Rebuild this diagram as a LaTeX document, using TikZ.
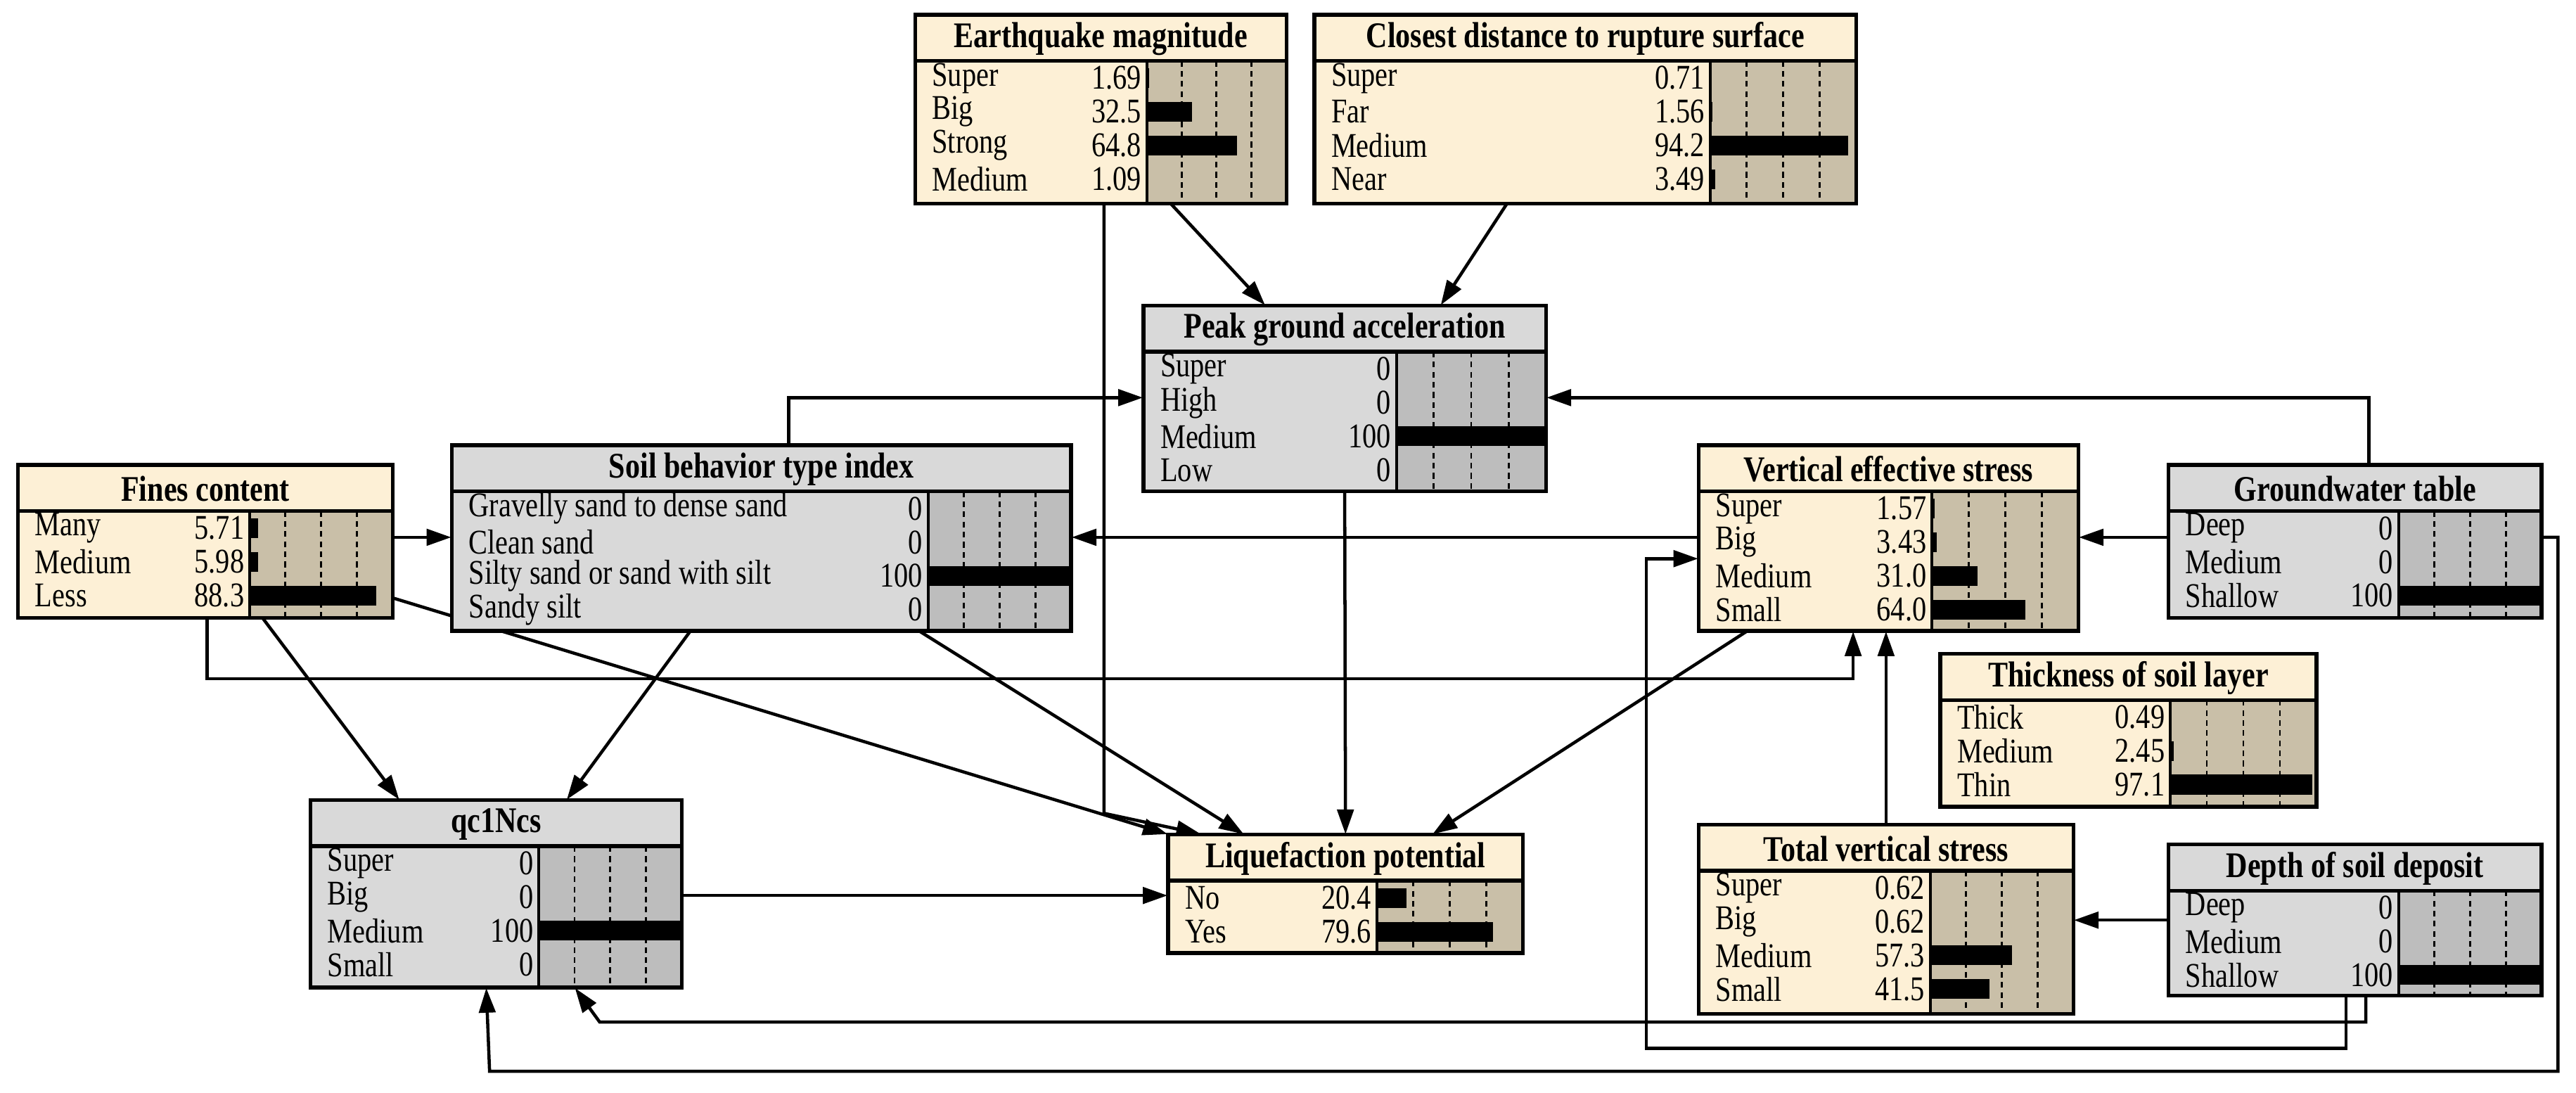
\documentclass[tikz,border=0pt]{standalone}
\usepackage{fontspec}
\setmainfont{Liberation Serif}[FakeStretch=0.82]
\usetikzlibrary{arrows.meta}
\definecolor{cf}{HTML}{FDF0D6}
\definecolor{cb}{HTML}{C9BFA8}
\definecolor{gf}{HTML}{D9D9D9}
\definecolor{gb}{HTML}{BDBDBD}
\tikzset{
  edge/.style={line width=1.1pt,-{Triangle[length=0.3cm,width=0.2cm]}},
  lbl/.style={inner sep=0,font=\fontsize{12}{12}\selectfont},
  ttl/.style={inner sep=0,font=\fontsize{12.5}{12}\selectfont\bfseries},
}
% #1 name #2 x1 #3 y1 #4 x2 #5 y2 #6 barx #7 title #8 colour prefix (c/g) #9 rows
\newcommand\bnbox[9]{%
  \fill[#8f] (#2,#3) rectangle (#4,#5);
  \fill[#8b] (#6,#3+28) rectangle (#4,#5);
  \foreach \k in {1,2,3}{\draw[dash pattern=on 2pt off 1.5pt,line width=0.7pt] ({#6+\k*(#4-#6)/4},#3+28) -- ({#6+\k*(#4-#6)/4},#5);}
  \foreach \l/\v/\p [count=\i] in {#9}{%
    \pgfmathsetmacro\yy{#3+38.5+(\i-1)*20.5}
    \node[lbl,anchor=west] at (#2+10,\yy) {\l};
    \node[lbl,anchor=east] at (#6-3,\yy) {\v};
    \pgfmathsetmacro\ww{#6+\p*(#4-#6)/100}
    \fill (#6,\yy-6) rectangle (\ww,\yy+6);
  }
  \node[ttl] at ({(#2+#4)/2},#3+14.5) {#7};
  \draw[line width=1.3pt] (#2,#3) rectangle (#4,#5);
  \draw[line width=1.3pt] (#2,#3+28) -- (#4,#3+28);
  \draw[line width=1pt] (#6,#3+28) -- (#6,#5);
  \node[inner sep=0,minimum width={(#4-#2)*0.02cm},minimum height={(#5-#3)*0.02cm}] (#1) at ({(#2+#4)/2},{(#3+#5)/2}) {};
}
\begin{document}
\begin{tikzpicture}[x=0.02cm,y=-0.02cm]
\useasboundingbox (0,0) rectangle (1568,665);
% nodes first (invisible anchors created), edges drawn on background via layering order trick:
\begin{scope}[opacity=0]
\node[inner sep=0,minimum width=4.52cm,minimum height=2.3cm] (eq) at (670,66.5) {};
\end{scope}
% ---- node geometry placeholders for edges
\path (557,9) coordinate (eqnw) (783,124) coordinate (eqse);
\node[inner sep=0,minimum width={226*0.02cm},minimum height={115*0.02cm}] (eq) at (670,66.5) {};
\node[inner sep=0,minimum width={330*0.02cm},minimum height={115*0.02cm}] (cd) at (965,66.5) {};
\node[inner sep=0,minimum width={245*0.02cm},minimum height={113*0.02cm}] (pga) at (818.5,242.5) {};
\node[inner sep=0,minimum width={228*0.02cm},minimum height={93*0.02cm}] (fc) at (125,329.5) {};
\node[inner sep=0,minimum width={377*0.02cm},minimum height={113*0.02cm}] (sb) at (463.5,327.5) {};
\node[inner sep=0,minimum width={231*0.02cm},minimum height={113*0.02cm}] (ves) at (1149.5,327.5) {};
\node[inner sep=0,minimum width={227*0.02cm},minimum height={93*0.02cm}] (gw) at (1433.5,329.5) {};
\node[inner sep=0,minimum width={226*0.02cm},minimum height={114*0.02cm}] (qc) at (302,544) {};
\node[inner sep=0,minimum width={216*0.02cm},minimum height={72*0.02cm}] (lp) at (819,544) {};
\node[inner sep=0,minimum width={228*0.02cm},minimum height={115*0.02cm}] (tvs) at (1148,559.5) {};
\node[inner sep=0,minimum width={227*0.02cm},minimum height={92*0.02cm}] (ds) at (1433.5,560) {};
% ---- edges
\draw[edge] (713,0 |- eq.south) -- (770,0 |- pga.north);
\draw[edge] (917,0 |- cd.south) -- (877,0 |- pga.north);
\draw[edge] (672,0 |- eq.south) -- (672,495) -- (731,0 |- lp.north);
\draw[edge] (pga.south) -- (lp.north);
\draw[edge] (480,0 |- sb.north) -- (480,242) -- (pga.west |- 0,242);
\draw[edge] (1442,0 |- gw.north) -- (1442,242) -- (pga.east |- 0,242);
\draw[edge] (fc.east |- 0,327) -- (sb.west |- 0,327);
\draw[edge] (ves.west |- 0,327) -- (sb.east |- 0,327);
\draw[edge] (gw.west |- 0,327) -- (ves.east |- 0,327);
\draw[edge] (126,0 |- fc.south) -- (126,413) -- (1128,413) -- (1128,0 |- ves.south);
\draw[edge] (160,0 |- fc.south) -- (243,0 |- qc.north);
\draw[edge] (fc.east |- 0,364) -- (lp.north west);
\draw[edge] (420,0 |- sb.south) -- (345,0 |- qc.north);
\draw[edge] (560,0 |- sb.south) -- (757,0 |- lp.north);
\draw[edge] (1063,0 |- ves.south) -- (872,0 |- lp.north);
\draw[edge] (1148,0 |- tvs.north) -- (1148,0 |- ves.south);
\draw[edge] (ds.west |- 0,560) -- (tvs.east |- 0,560);
\draw[edge] (1440,0 |- ds.south) -- (1440,622) -- (365,622) -- (350,0 |- qc.south);
\draw[edge] (1428,0 |- ds.south) -- (1428,638) -- (1002,638) -- (1002,340) -- (ves.west |- 0,340);
\draw[edge] (gw.east |- 0,327) -- (1557,327) -- (1557,652) -- (298,652) -- (296,0 |- qc.south);
\draw[edge] (qc.east |- 0,545) -- (lp.west |- 0,545);
% ---- nodes drawn
\bnbox{eq}{557}{9}{783}{124}{698}{Earthquake magnitude}{c}{Super/1.69/1.69,Big/32.5/32.5,Strong/64.8/64.8,Medium/1.09/1.09}
\bnbox{cd}{800}{9}{1130}{124}{1041}{Closest distance to rupture surface}{c}{Super/0.71/0.71,Far/1.56/1.56,Medium/94.2/94.2,Near/3.49/3.49}
\bnbox{pga}{696}{186}{941}{299}{850}{Peak ground acceleration}{g}{Super/0/0,High/0/0,Medium/100/100,Low/0/0}
\bnbox{fc}{11}{283}{239}{376}{152}{Fines content}{c}{Many/5.71/5.71,Medium/5.98/5.98,Less/88.3/88.3}
\bnbox{sb}{275}{271}{652}{384}{565}{Soil behavior type index}{g}{Gravelly sand to dense sand/0/0,Clean sand/0/0,Silty sand or sand with silt/100/100,Sandy silt/0/0}
\bnbox{ves}{1034}{271}{1265}{384}{1176}{Vertical effective stress}{c}{Super/1.57/1.57,Big/3.43/3.43,Medium/31.0/31.0,Small/64.0/64.0}
\bnbox{gw}{1320}{283}{1547}{376}{1460}{Groundwater table}{g}{Deep/0/0,Medium/0/0,Shallow/100/100}
\bnbox{ts}{1181}{398}{1410}{491}{1321}{Thickness of soil layer}{c}{Thick/0.49/0.49,Medium/2.45/2.45,Thin/97.1/97.1}
\bnbox{qc}{189}{487}{415}{601}{328}{qc1Ncs}{g}{Super/0/0,Big/0/0,Medium/100/100,Small/0/0}
\bnbox{lp}{711}{508}{927}{580}{838}{Liquefaction potential}{c}{No/20.4/20.4,Yes/79.6/79.6}
\bnbox{tvs}{1034}{502}{1262}{617}{1175}{Total vertical stress}{c}{Super/0.62/0.62,Big/0.62/0.62,Medium/57.3/57.3,Small/41.5/41.5}
\bnbox{ds}{1320}{514}{1547}{606}{1460}{Depth of soil deposit}{g}{Deep/0/0,Medium/0/0,Shallow/100/100}
\end{tikzpicture}
\end{document}
